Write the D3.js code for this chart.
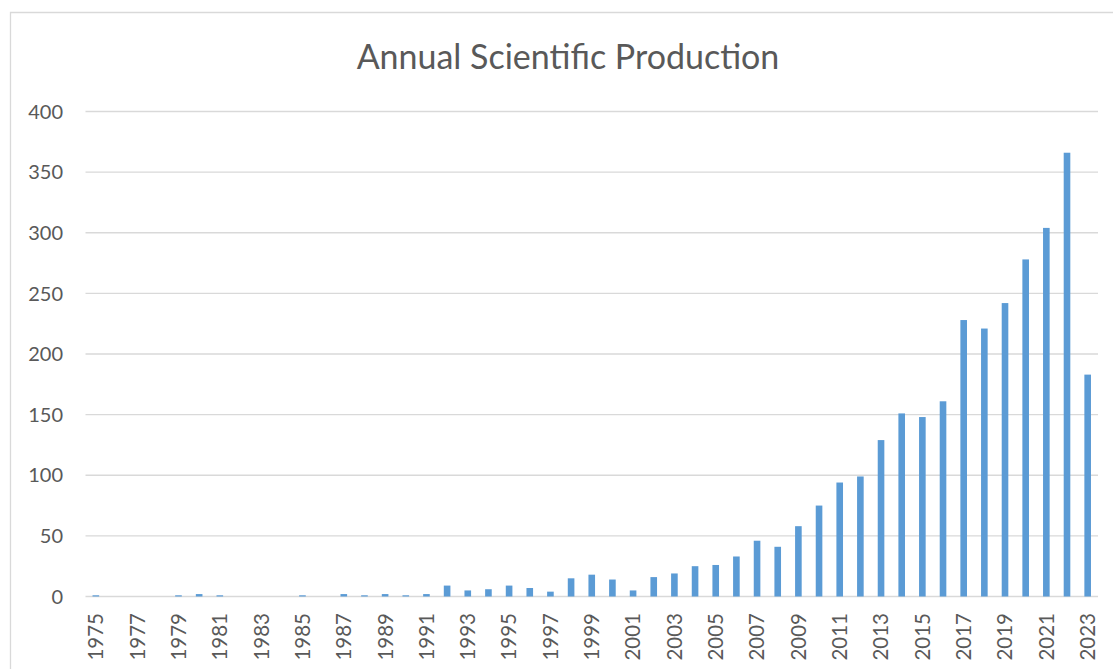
<!DOCTYPE html>
<html>
<head>
<meta charset="utf-8">
<script src="https://cdn.jsdelivr.net/npm/d3@7"></script>
<style>
  html, body { margin: 0; padding: 0; background: #ffffff; }
  svg { display: block; }
  text { font-family: Lato, "Open Sans", sans-serif; fill: #595959; }
</style>
</head>
<body>
<svg id="chart" width="1113" height="669"></svg>
<script>
const title = "Annual Scientific Production";
const years = [1975,1976,1977,1978,1979,1980,1981,1982,1983,1984,1985,1986,1987,1988,1989,1990,1991,1992,1993,1994,1995,1996,1997,1998,1999,2000,2001,2002,2003,2004,2005,2006,2007,2008,2009,2010,2011,2012,2013,2014,2015,2016,2017,2018,2019,2020,2021,2022,2023];
const articles = [1,0,0,0,1,2,1,0,0,0,1,0,2,1,2,1,2,9,5,6,9,7,4,15,18,14,5,16,19,25,26,33,46,41,58,75,94,99,129,151,148,161,228,221,242,278,304,366,183];
const yTicks = [0,50,100,150,200,250,300,350,400];
const xTickLabels = years.filter((y, i) => i % 2 === 0);

const svg = d3.select("#chart");

// outer chart border (left + top visible)
svg.append("path")
  .attr("d", "M10.5,669 L10.5,12.5 L1113,12.5")
  .attr("fill", "none")
  .attr("stroke", "#d9d9d9")
  .attr("stroke-width", 1.3);

const x = d3.scaleBand()
  .domain(years)
  .range([85.5, 1098])
  .paddingInner(0.68)
  .paddingOuter(0.34);

const y = d3.scaleLinear()
  .domain([0, 400])
  .range([596.5, 111.5]);

// gridlines
svg.append("g")
  .selectAll("line")
  .data(yTicks)
  .join("line")
  .attr("x1", 85.5)
  .attr("x2", 1098)
  .attr("y1", d => y(d))
  .attr("y2", d => y(d))
  .attr("stroke", "#d9d9d9")
  .attr("stroke-width", 1.3);

// y tick labels
svg.append("g")
  .selectAll("text")
  .data(yTicks)
  .join("text")
  .attr("x", 63)
  .attr("y", d => y(d))
  .attr("dy", "0.36em")
  .attr("text-anchor", "end")
  .style("font-size", "20px")
  .text(d => d);

// bars
svg.append("g")
  .selectAll("rect")
  .data(years)
  .join("rect")
  .attr("x", d => x(d))
  .attr("width", x.bandwidth())
  .attr("y", (d, i) => y(articles[i]))
  .attr("height", (d, i) => y(0) - y(articles[i]))
  .attr("fill", "#5b9bd5");

// x tick labels
svg.append("g")
  .selectAll("text")
  .data(xTickLabels)
  .join("text")
  .attr("transform", d => `translate(${x(d) + x.bandwidth() / 2},613) rotate(-90)`)
  .attr("dy", "0.36em")
  .attr("text-anchor", "end")
  .style("font-size", "20.5px")
  .text(d => d);

// title
svg.append("text")
  .attr("x", 568)
  .attr("y", 69)
  .attr("text-anchor", "middle")
  .style("font-size", "34px")
  .text(title);
</script>
</body>
</html>
